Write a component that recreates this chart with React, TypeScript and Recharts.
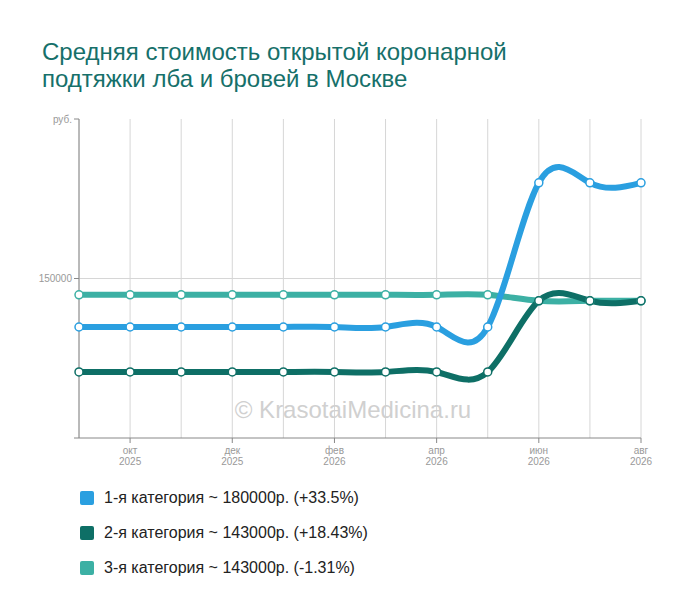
import React from "react";
import { LineChart, Line, XAxis, YAxis, CartesianGrid, ReferenceLine } from "recharts";

const xLabels = ["сен|2025","окт|2025","ноя|2025","дек|2025","янв|2026","фев|2026","мар|2026","апр|2026","май|2026","июн|2026","июл|2026","авг|2026"];
const cat1 = [134800,134800,134800,134800,134800,134800,134800,134800,134800,180000,180000,180000];
const cat2 = [120700,120700,120700,120700,120700,120700,120700,120700,120700,143000,143000,143000];
const cat3 = [144900,144900,144900,144900,144900,144900,144900,144900,144900,143000,143000,143000];
const yTicks = [100000, 150000, 200000];

const data = xLabels.map((m, i) => ({ m, c1: cat1[i], c2: cat2[i], c3: cat3[i] }));

const C1 = "#2a9fe0", C2 = "#0e6f66", C3 = "#3cb0a4";

const XTick = (p: any) => {
  const { x, y, payload, index } = p;
  if (index % 2 === 0) return <g />;
  const [a, b] = String(payload.value).split("|");
  return (
    <g>
      <line x1={x} x2={x} y1={y - 8} y2={y - 3} stroke="#888" />
      <text x={x} y={y + 8} textAnchor="middle" fontSize={10} fill="#999" fontFamily="Arial, 'Liberation Sans'">{a}</text>
      <text x={x} y={y + 19} textAnchor="middle" fontSize={10} fill="#999" fontFamily="Arial, 'Liberation Sans'">{b}</text>
    </g>
  );
};

const dot = (c: string) => ({ r: 4, fill: "#fff", stroke: c, strokeWidth: 1.5 });

export default function App() {
  const font = "Arial, 'Liberation Sans', sans-serif";
  const legend = [
    [C1, "1-я категория ~ 180000р. (+33.5%)"],
    [C2, "2-я категория ~ 143000р. (+18.43%)"],
    [C3, "3-я категория ~ 143000р. (-1.31%)"],
  ];
  return (
    <div style={{ position: "relative", width: 684, height: 600, fontFamily: font }}>
      <div style={{ position: "absolute", left: 34, top: 30, fontSize: 24, lineHeight: "27px", color: "#16706a" }}>
        Средняя стоимость открытой коронарной<br />подтяжки лба и бровей в Москве
      </div>
      <div style={{ position: "absolute", left: 0, top: 0 }}>
        <LineChart width={684} height={480} data={data} margin={{ top: 111, right: 51, left: 0, bottom: 10 }}>
          <CartesianGrid horizontal={false} stroke="#d6d6d6" />
          <ReferenceLine y={150000} stroke="#d6d6d6" />
          <text x={345} y={410} textAnchor="middle" fontSize={24} fill="#d0d0d0" fontFamily={font}>© KrasotaiMedicina.ru</text>
          <XAxis dataKey="m" interval={0} tick={<XTick />} tickLine={false} stroke="#888" height={40} />
          <YAxis width={71} domain={[100000, 200000]} ticks={yTicks} stroke="#888" tickSize={5}
            tick={{ fontSize: 10, fill: "#999", fontFamily: font }}
            tickFormatter={(v: number) => (v === 200000 ? "руб." : v === 100000 ? "" : String(v))} />
          <Line type="natural" dataKey="c3" stroke={C3} strokeWidth={6} dot={dot(C3)} isAnimationActive={false} />
          <Line type="natural" dataKey="c2" stroke={C2} strokeWidth={6} dot={dot(C2)} isAnimationActive={false} />
          <Line type="natural" dataKey="c1" stroke={C1} strokeWidth={6} dot={dot(C1)} isAnimationActive={false} />
        </LineChart>
      </div>
      {legend.map(([c, t], i) => (
        <div key={i} style={{ position: "absolute", left: 72, top: 481 + i * 35, display: "flex", alignItems: "center", fontSize: 16, color: "#222" }}>
          <span style={{ width: 14, height: 14, background: c, borderRadius: 2, marginRight: 10, display: "inline-block" }} />
          {t}
        </div>
      ))}
    </div>
  );
}
